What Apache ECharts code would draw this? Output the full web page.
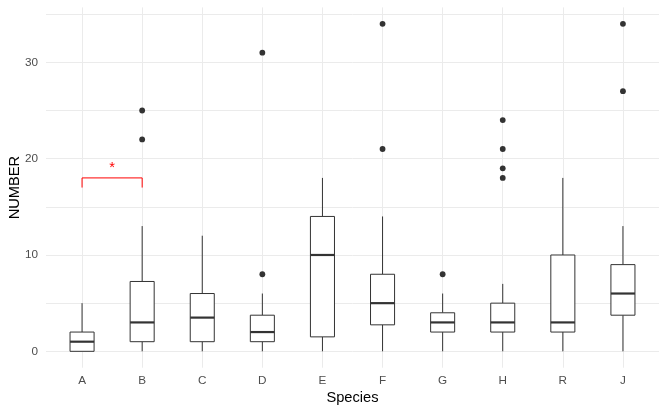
<!DOCTYPE html>
<html>
<head>
<meta charset="utf-8">
<script src="https://cdn.jsdelivr.net/npm/echarts@6/dist/echarts.min.js"></script>
<style>
html,body{margin:0;padding:0;background:#fff;}
#chart{width:667px;height:412px;}
</style>
</head>
<body>
<div id="chart"></div>
<script>
// ---- data ----
const categories = ['A','B','C','D','E','F','G','H','R','J'];
const whiskerLow  = [0, 0, 0, 0, 0, 0, 0, 0, 0, 0];
const q1          = [0, 1, 1, 1, 1.5, 2.75, 2, 2, 2, 3.75];
const median      = [1, 3, 3.5, 2, 10, 5, 3, 3, 3, 6];
const q3          = [2, 7.25, 6, 3.75, 14, 8, 4, 5, 10, 9];
const whiskerHigh = [5, 13, 12, 6, 18, 14, 6, 7, 18, 13];

const outlierCategory = ['B','B','D','D','F','F','G','H','H','H','H','J','J'];
const outlierValue    = [22, 25, 8, 31, 21, 34, 8, 18, 19, 21, 24, 27, 34];

const yTickLabels = [0, 10, 20, 30];
const yGridValues = [0, 5, 10, 15, 20, 25, 30, 35];

const bracketFrom = 'A';
const bracketTo = 'B';
const bracketY = 18;
const bracketTipY = 17;
const bracketLabel = '*';

// ---- build ----
const boxData = categories.map((c, i) => [i + 1, whiskerLow[i], q1[i], median[i], q3[i], whiskerHigh[i]]);
const outlierData = outlierCategory.map((c, i) => [categories.indexOf(c) + 1, outlierValue[i]]);
const bracketData = [[categories.indexOf(bracketFrom) + 1, categories.indexOf(bracketTo) + 1, bracketY, bracketTipY]];
const xPositions = categories.map((c, i) => i + 1);

const ink = '#333333';
const gridColor = '#ebebeb';
const font = '"Liberation Sans", Arial, sans-serif';

const chart = echarts.init(document.getElementById('chart'), null, {renderer: 'canvas'});
chart.setOption({
  animation: false,
  backgroundColor: '#ffffff',
  grid: {left: 46, right: 8, top: 7.4, bottom: 44.3, containLabel: false, outerBoundsMode: 'none'},
  xAxis: {
    type: 'value',
    min: 0.4, max: 10.6,
    name: 'Species',
    nameLocation: 'middle',
    nameGap: 23,
    nameMoveOverlap: false,
    nameTextStyle: {color: '#000', fontSize: 14.67, fontFamily: font},
    axisLine: {show: false},
    axisTick: {show: false, customValues: xPositions},
    axisLabel: {
      customValues: xPositions,
      formatter: v => categories[Math.round(v) - 1],
      color: '#4d4d4d', fontSize: 11.73, fontFamily: font, margin: 7
    },
    splitLine: {show: true, lineStyle: {color: gridColor, width: 1}}
  },
  yAxis: {
    type: 'value',
    min: -1.7, max: 35.7,
    name: 'NUMBER',
    nameLocation: 'middle',
    nameGap: 23.5,
    nameMoveOverlap: false,
    nameTextStyle: {color: '#000', fontSize: 14.67, fontFamily: font},
    axisLine: {show: false},
    axisTick: {show: false, customValues: yGridValues},
    axisLabel: {
      customValues: yTickLabels,
      color: '#4d4d4d', fontSize: 11.73, fontFamily: font, margin: 8
    },
    splitLine: {show: true, lineStyle: {color: gridColor, width: 1}}
  },
  series: [
    {
      type: 'custom',
      name: 'box',
      data: boxData,
      encode: {x: 0, y: [1, 2, 3, 4, 5]},
      renderItem: function (params, api) {
        const x = api.value(0);
        const lo = api.coord([x, api.value(1)]);
        const a = api.coord([x, api.value(2)]);
        const m = api.coord([x, api.value(3)]);
        const b = api.coord([x, api.value(4)]);
        const hi = api.coord([x, api.value(5)]);
        const hw = api.size([0.4, 0])[0] / 2;
        const st = {stroke: ink, lineWidth: 1, fill: null};
        return {
          type: 'group',
          children: [
            {type: 'line', shape: {x1: lo[0], y1: lo[1], x2: a[0], y2: a[1]}, style: st},
            {type: 'line', shape: {x1: b[0], y1: b[1], x2: hi[0], y2: hi[1]}, style: st},
            {type: 'rect', shape: {x: a[0] - hw, y: b[1], width: hw * 2, height: a[1] - b[1]},
              style: {stroke: ink, lineWidth: 1, fill: '#ffffff'}},
            {type: 'line', shape: {x1: m[0] - hw, y1: m[1], x2: m[0] + hw, y2: m[1]},
              style: {stroke: ink, lineWidth: 2.2}}
          ]
        };
      },
      z: 2
    },
    {
      type: 'scatter',
      name: 'outliers',
      data: outlierData,
      symbol: 'circle',
      symbolSize: 5.8,
      itemStyle: {color: ink, opacity: 1},
      z: 3
    },
    {
      type: 'custom',
      name: 'signif',
      data: bracketData,
      encode: {x: [0, 1], y: [2, 3]},
      renderItem: function (params, api) {
        const p0 = api.coord([api.value(0), api.value(3)]);
        const p1 = api.coord([api.value(0), api.value(2)]);
        const p2 = api.coord([api.value(1), api.value(2)]);
        const p3 = api.coord([api.value(1), api.value(3)]);
        return {
          type: 'group',
          children: [
            {type: 'polyline', shape: {points: [p0, p1, p2, p3]},
              style: {stroke: '#ff0000', lineWidth: 1, fill: null}},
            {type: 'text', x: (p1[0] + p2[0]) / 2, y: p1[1] - 10,
              style: {text: bracketLabel, fill: '#ff0000', fontSize: 14.67, fontFamily: font,
                align: 'center', verticalAlign: 'middle'}}
          ]
        };
      },
      z: 4
    }
  ]
});
</script>
</body>
</html>
